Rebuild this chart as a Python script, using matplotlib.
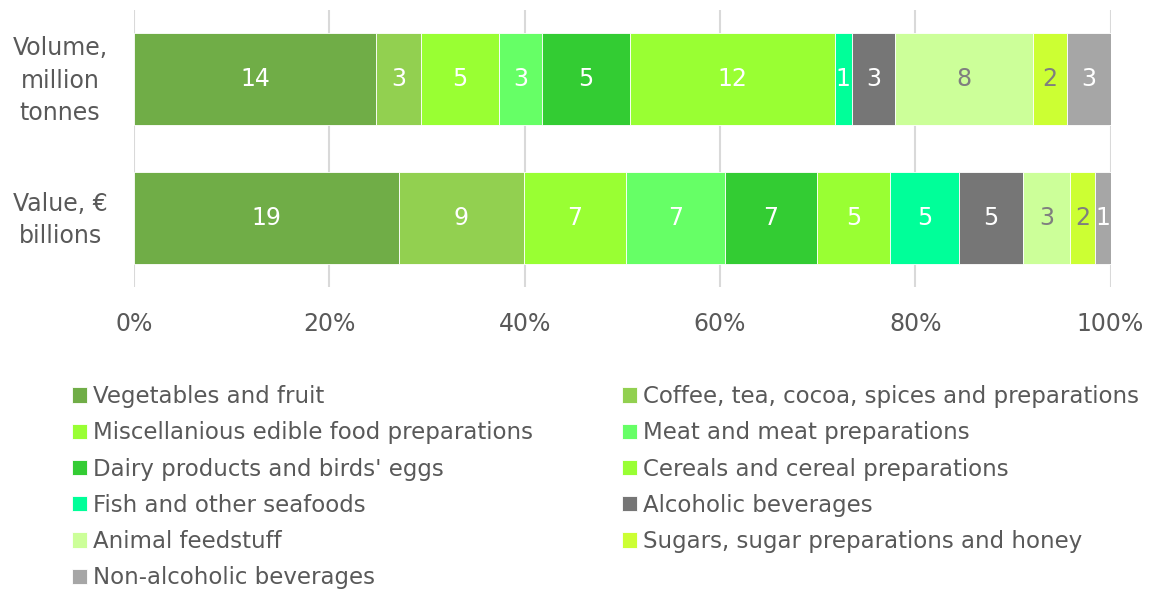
import matplotlib.pyplot as plt
import matplotlib.transforms as mtransforms
import numpy as np

categories = ['Volume,\nmillion\ntonnes', 'Value, €\nbillions']
groups = ['Vegetables and fruit', 'Coffee, tea, cocoa, spices and preparations',
          'Miscellanious edible food preparations', 'Meat and meat preparations',
          "Dairy products and birds' eggs", 'Cereals and cereal preparations',
          'Fish and other seafoods', 'Alcoholic beverages',
          'Animal feedstuff', 'Sugars, sugar preparations and honey',
          'Non-alcoholic beverages']
volume = [14.4, 2.7, 4.6, 2.6, 5.2, 12.2, 1.0, 2.6, 8.2, 2.0, 2.6]
value = [19.0, 9.0, 7.3, 7.1, 6.6, 5.3, 4.9, 4.6, 3.4, 1.8, 1.1]

colors = ['#70AD47', '#92D050', '#99FF33', '#66FF66', '#33CC33', '#99FF33',
          '#00FF99', '#767676', '#CCFF99', '#CCFF33', '#A6A6A6']
label_colors = ['white'] * 8 + ['#7F7F7F', '#7F7F7F', 'white']
text_color = '#595959'
fs = 17

plt.rcParams['font.family'] = ['DejaVu Sans']

fig = plt.figure(figsize=(11.54, 5.89), dpi=100)
ax = fig.add_axes([134 / 1154, 1 - 287 / 589, (1110.5 - 134) / 1154, 277 / 589])

data = np.array([volume, value])
pct = data / data.sum(axis=1, keepdims=True) * 100
y = np.arange(len(categories))
left = np.zeros(len(categories))
handles = []
for i, g in enumerate(groups):
    bars = ax.barh(y, pct[:, i], left=left, height=0.66, color=colors[i],
                   edgecolor='white', linewidth=0.6, label=g, zorder=3)
    handles.append(bars)
    for j in range(len(categories)):
        ax.text(left[j] + pct[j, i] / 2, y[j], f'{data[j, i]:.0f}',
                ha='center', va='center', color=label_colors[i], fontsize=fs,
                zorder=4)
    left += pct[:, i]

ax.set_xlim(0, 100)
ax.set_ylim(1.496, -0.496)
ax.set_xticks(np.arange(0, 101, 20))
ax.set_xticklabels([f'{t}%' for t in range(0, 101, 20)])
ax.set_yticks(y)
ax.set_yticklabels(categories, multialignment='center', linespacing=1.45)
ax.tick_params(axis='both', length=0, labelsize=fs, colors=text_color)
ax.tick_params(axis='x', pad=18)
ax.tick_params(axis='y', pad=19)
# nudge the multi-line category labels up so they sit centred on the bars
shift = mtransforms.ScaledTranslation(0, 0.05, fig.dpi_scale_trans)
for lab in ax.get_yticklabels():
    lab.set_transform(lab.get_transform() + shift)
ax.grid(axis='x', color='#D9D9D9', linewidth=1.5, zorder=0)
for s in ax.spines.values():
    s.set_visible(False)

order = [0, 2, 4, 6, 8, 10, 1, 3, 5, 7, 9]
leg = fig.legend([handles[k] for k in order], [groups[k] for k in order],
                 loc='upper left', bbox_to_anchor=(72 / 1154, 1 - 385 / 589),
                 ncol=2, frameon=False, fontsize=16.5, borderpad=0,
                 borderaxespad=0, handlelength=0.65, handleheight=0.65,
                 handletextpad=0.25, labelspacing=0.58, columnspacing=3.9,
                 labelcolor=text_color)

plt.savefig('out.png', dpi=100)
